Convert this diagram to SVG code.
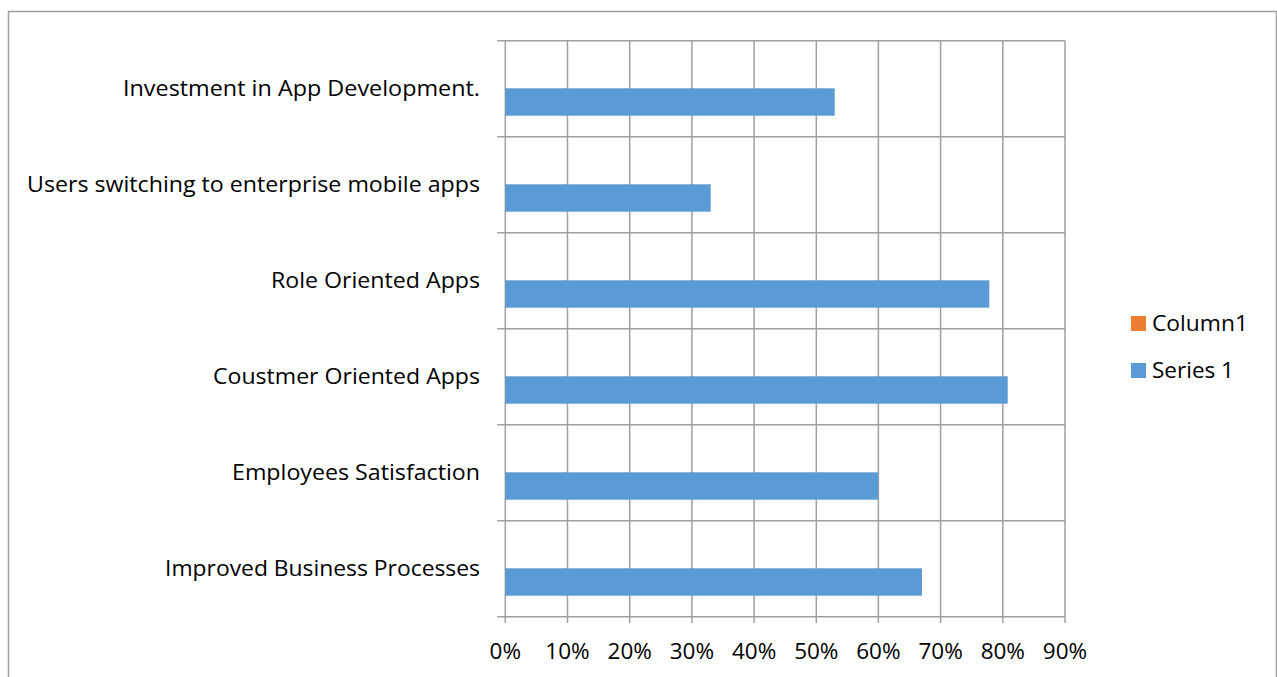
<svg xmlns="http://www.w3.org/2000/svg" width="1277" height="677" viewBox="0 0 1277 677">
  <style>
    .grid { stroke: #a0a0a0; stroke-width: 1.5; fill: none; }
    .bar { fill: #5B9BD5; }
    .lbl { font-family: "Open Sans", "Liberation Sans", sans-serif; font-size: 21px; fill: #000; }
    .big { font-size: 22.5px; }
    .cat { text-anchor: end; }
    .tick { text-anchor: middle; }
  </style>
  <rect x="0" y="0" width="1277" height="677" fill="#fff"/>
  <rect x="8.5" y="11.5" width="1268" height="680" fill="none" stroke="#a0a0a0" stroke-width="1.5"/>

  <g id="gridlines" class="grid">
    <path d="M497 40.7H1065M497 136.7H1065M497 232.7H1065M497 328.7H1065M497 424.7H1065M497 520.7H1065M497 616.7H1065"/>
    <path d="M505.3 40.7V623M567.5 40.7V623M629.7 40.7V623M691.9 40.7V623M754.1 40.7V623M816.3 40.7V623M878.4 40.7V623M940.6 40.7V623M1002.8 40.7V623M1065 40.7V623"/>
  </g>

  <g id="bars">
    <rect class="bar" x="505.3" y="88.3" width="329.4" height="27.4"/>
    <rect class="bar" x="505.3" y="184.3" width="205.4" height="27.4"/>
    <rect class="bar" x="505.3" y="280.3" width="484" height="27.4"/>
    <rect class="bar" x="505.3" y="376.3" width="502.4" height="27.4"/>
    <rect class="bar" x="505.3" y="472.3" width="372.8" height="27.4"/>
    <rect class="bar" x="505.3" y="568.3" width="416.7" height="27.4"/>
  </g>

  <g id="category-labels" class="lbl cat">
    <text x="480" y="95.5" textLength="357" lengthAdjust="spacingAndGlyphs">Investment in App Development.</text>
    <text x="480" y="191.5" textLength="453" lengthAdjust="spacingAndGlyphs">Users switching to enterprise mobile apps</text>
    <text x="480" y="287.5" textLength="209" lengthAdjust="spacingAndGlyphs">Role Oriented Apps</text>
    <text x="480" y="383.5" textLength="267" lengthAdjust="spacingAndGlyphs">Coustmer Oriented Apps</text>
    <text x="480" y="479.5" textLength="248" lengthAdjust="spacingAndGlyphs">Employees Satisfaction</text>
    <text x="480" y="575.5" textLength="315" lengthAdjust="spacingAndGlyphs">Improved Business Processes</text>
  </g>

  <g id="axis-labels" class="lbl big tick">
    <text x="505.3" y="659">0%</text>
    <text x="567.5" y="659">10%</text>
    <text x="629.7" y="659">20%</text>
    <text x="691.9" y="659">30%</text>
    <text x="754.1" y="659">40%</text>
    <text x="816.3" y="659">50%</text>
    <text x="878.4" y="659">60%</text>
    <text x="940.6" y="659">70%</text>
    <text x="1002.8" y="659">80%</text>
    <text x="1065" y="659">90%</text>
  </g>

  <g id="legend">
    <rect x="1131" y="316" width="15" height="15" fill="#ED7D31"/>
    <text class="lbl big" x="1152" y="330.5" textLength="96" lengthAdjust="spacingAndGlyphs">Column1</text>
    <rect x="1131" y="363" width="15" height="15" fill="#5B9BD5"/>
    <text class="lbl big" x="1152" y="377.5" textLength="82" lengthAdjust="spacingAndGlyphs">Series 1</text>
  </g>
</svg>
